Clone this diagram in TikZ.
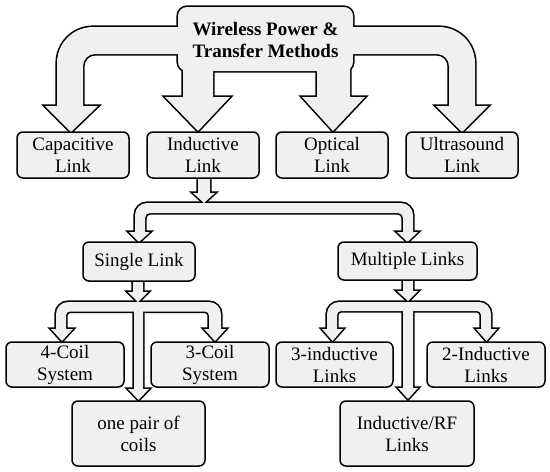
\documentclass[tikz,border=0pt]{standalone}
\usepackage{fontspec}
\setmainfont{Liberation Serif}
\newfontfamily\wptserif{Liberation Serif}
\definecolor{boxfill}{RGB}{240,240,240}
\newcommand\wptarrows[1]{%
  % top: title box with four block arrows
  \path[#1, rounded corners=9pt] (178,7) rectangle (353,71);
  \path[#1] (200,27) [rounded corners=36pt] -- (57,27) [sharp corners] -- (57,106) -- (45,106) -- (71,132) -- (98,106) -- (83,106) [rounded corners=12pt] -- (83,54) [sharp corners] -- (200,54) -- cycle;
  \path[#1] (330,27) [rounded corners=36pt] -- (475,27) [sharp corners] -- (475,106) -- (488,106) -- (462,132) -- (436,106) -- (449,106) [rounded corners=12pt] -- (449,54) [sharp corners] -- (330,54) -- cycle;
  \path[#1] (183,50) -- (183,97) -- (165,97) -- (198,131) -- (230,97) -- (213,97) -- (213,50) -- cycle;
  \path[#1] (317,50) -- (317,97) -- (302,97) -- (333,131) -- (365,97) -- (350,97) -- (350,50) -- cycle;
  % fork below Inductive Link
  \path[#1] (198,172) -- (198,193) -- (193,193) -- (204,203) -- (215,193) -- (210,193) -- (210,172) -- cycle;
  \path[#1] (129,232) -- (139,242) -- (150,232) -- (145,232) [rounded corners=5pt] -- (145,213) -- (403,213) [sharp corners] -- (403,232) -- (397,232) -- (407.5,242) -- (418,232) -- (413,232) [rounded corners=12pt] -- (413,203) -- (135,203) [sharp corners] -- (135,232) -- cycle;
  % fork below Single Link
  \path[#1] (133,275) -- (133,292) -- (128,292) -- (138,302) -- (148,292) -- (143,292) -- (143,275) -- cycle;
  \path[#1] (51,329) -- (62,341) -- (73,329) -- (66,329) [rounded corners=4pt] -- (66,311.5) -- (209,311.5) [sharp corners] -- (209,329) -- (204,329) -- (215,341) -- (226,329) -- (221,329) [rounded corners=12pt] -- (221,302) -- (56,302) [sharp corners] -- (56,329) -- cycle;
  \path[#1] (134,305) -- (134,389) -- (128,389) -- (138.5,400) -- (149,389) -- (143,389) -- (143,305) -- cycle;
  % fork below Multiple Links
  \path[#1] (403,274) -- (403,291) -- (397,291) -- (408,301) -- (418,291) -- (413,291) -- (413,274) -- cycle;
  \path[#1] (322,329) -- (332.5,341) -- (343,329) -- (337,329) [rounded corners=4pt] -- (337,311) -- (481,311) [sharp corners] -- (481,329) -- (476,329) -- (486.5,341) -- (497,329) -- (491,329) [rounded corners=12pt] -- (491,302) -- (327,302) [sharp corners] -- (327,329) -- cycle;
  \path[#1] (403,305) -- (403,388) -- (398,388) -- (408,399) -- (418,388) -- (413,388) -- (413,305) -- cycle;
}
\begin{document}
\begin{tikzpicture}[x=1pt,y=-1pt,
  box/.style={draw=black, fill=boxfill, line width=1.5pt, rounded corners=6pt,
    inner sep=0pt, align=center, font=\wptserif\fontsize{19}{22}\selectfont},
  title/.style={inner sep=0pt, align=center, font=\wptserif\bfseries\fontsize{19}{22}\selectfont}]
\useasboundingbox (0,0) rectangle (550,472);
\wptarrows{draw=black, line width=3.2pt, line join=miter}
\wptarrows{fill=boxfill}
\node[title] (wpt) at (265.5,40) {Wireless Power \&\\Transfer Methods};
\node[box, minimum width=112pt, minimum height=46pt] (cap) at (73,155) {Capacitive\\Link};
\node[box, minimum width=112pt, minimum height=46pt] (ind) at (203,155) {Inductive\\Link};
\node[box, minimum width=112pt, minimum height=46pt] (opt) at (332,155) {Optical\\Link};
\node[box, minimum width=112pt, minimum height=46pt] (ult) at (462,155) {Ultrasound\\Link};
\node[box, minimum width=112pt, minimum height=39pt] (single) at (139,261.5) {Single Link};
\node[box, minimum width=139pt, minimum height=38pt] (multi) at (407.5,261) {Multiple Links};
\node[box, minimum width=118pt, minimum height=45pt] (c4) at (65,364.5) {4-Coil\\System};
\node[box, minimum width=118pt, minimum height=45pt] (c3) at (210,364.5) {3-Coil\\System};
\node[box, minimum width=133pt, minimum height=65pt] (pair) at (138.5,433.5) {one pair of\\coils};
\node[box, minimum width=117pt, minimum height=45pt] (i3) at (334.5,364.5) {3-inductive\\Links};
\node[box, minimum width=118pt, minimum height=45pt] (i2) at (486,364.5) {2-Inductive\\Links};
\node[box, minimum width=134pt, minimum height=65pt] (rf) at (407,433.5) {Inductive/RF\\Links};
\end{tikzpicture}
\end{document}
